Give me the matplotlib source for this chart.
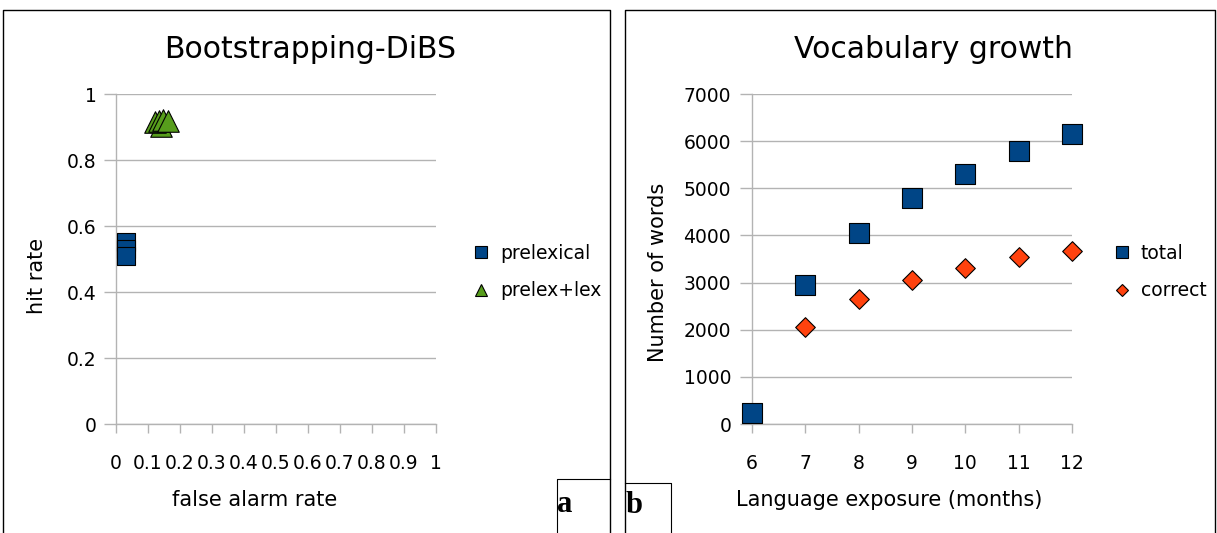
import matplotlib
matplotlib.use("Agg")
import matplotlib.pyplot as plt
from matplotlib.lines import Line2D

# ---- data ----
prelexical_far = [0.03, 0.03, 0.03]
prelexical_hit = [0.55, 0.53, 0.51]
prelexlex_far = [0.14, 0.122, 0.134, 0.147, 0.163]
prelexlex_hit = [0.903, 0.915, 0.918, 0.92, 0.918]

months = [6, 7, 8, 9, 10, 11, 12]
total_words = [230, 2950, 4050, 4800, 5300, 5800, 6150]
correct_months = [7, 8, 9, 10, 11, 12]
correct_words = [2050, 2650, 3050, 3300, 3550, 3680]

far_ticks = [0, 0.1, 0.2, 0.3, 0.4, 0.5, 0.6, 0.7, 0.8, 0.9, 1]
far_ticklabels = ["0", "0.1", "0.2", "0.3", "0.4", "0.5", "0.6", "0.7", "0.8", "0.9", "1"]
hit_ticks = [0, 0.2, 0.4, 0.6, 0.8, 1]
hit_ticklabels = ["0", "0.2", "0.4", "0.6", "0.8", "1"]
word_ticks = [0, 1000, 2000, 3000, 4000, 5000, 6000, 7000]

BLUE = "#004586"
ORANGE = "#ff420e"
GREEN = "#579d1c"
GRID = "#b3b3b3"

plt.rcParams["font.family"] = ["DejaVu Sans"]

W, H = 1217, 533
fig = plt.figure(figsize=(W / 100, H / 100), dpi=100)


def px_rect(x0, y0, x1, y1):
    return [x0 / W, 1 - y1 / H, (x1 - x0) / W, (y1 - y0) / H]


def fx(x):
    return x / W


def fy(y):
    return 1 - y / H


def style_axes(ax):
    for s in ("top", "right"):
        ax.spines[s].set_visible(False)
    for s in ("left", "bottom"):
        ax.spines[s].set_color(GRID)
        ax.spines[s].set_linewidth(1.0)
    ax.grid(axis="y", color=GRID, linewidth=1.0)
    ax.set_axisbelow(True)
    ax.tick_params(axis="both", colors=GRID, labelcolor="black", labelsize=13.5,
                   width=1.0)
    ax.tick_params(axis="x", length=6.5, pad=15)
    ax.tick_params(axis="y", length=8.5, pad=5.5)


# ---- left panel ----
ax1 = fig.add_axes(px_rect(116, 94, 436, 424))
style_axes(ax1)
ax1.scatter(prelexical_far, prelexical_hit, marker="s", s=13.5 ** 2, c=BLUE,
            edgecolors="black", linewidths=0.8, zorder=3, clip_on=False)
ax1.scatter(prelexlex_far, prelexlex_hit, marker="^", s=15.5 ** 2, c=GREEN,
            edgecolors="black", linewidths=0.8, zorder=3, clip_on=False)
ax1.set_xlim(0, 1)
ax1.set_ylim(0, 1)
ax1.set_xticks(far_ticks)
ax1.set_xticklabels(far_ticklabels)
ax1.set_yticks(hit_ticks)
ax1.set_yticklabels(hit_ticklabels)
ax1.set_xlabel("false alarm rate", fontsize=15)
ax1.xaxis.set_label_coords(0.434, -0.2)
ax1.set_ylabel("hit rate", fontsize=15)
ax1.yaxis.set_label_coords(-0.216, 0.448)
fig.text(fx(310), fy(58), "Bootstrapping-DiBS", fontsize=21.5,
         ha="center", va="baseline")

h1 = [Line2D([], [], ls="none", marker="s", ms=8.6, mfc=BLUE, mec="black", mew=0.8),
      Line2D([], [], ls="none", marker="^", ms=8.5, mfc=GREEN, mec="black", mew=0.8)]
ax1.legend(h1, ["prelexical", "prelex+lex"], loc="center left",
           bbox_to_anchor=(fx(466), fy(272)), bbox_transform=fig.transFigure,
           frameon=False, fontsize=13.5, handlelength=0.8, handletextpad=0.6,
           labelspacing=1.0, borderaxespad=0)

# ---- right panel ----
ax2 = fig.add_axes(px_rect(752, 94, 1072, 424))
style_axes(ax2)
ax2.scatter(months, total_words, marker="s", s=14.5 ** 2, c=BLUE,
            edgecolors="black", linewidths=0.8, zorder=3, clip_on=False)
ax2.scatter(correct_months, correct_words, marker="D", s=10 ** 2, c=ORANGE,
            edgecolors="black", linewidths=0.8, zorder=3, clip_on=False)
ax2.set_xlim(6, 12)
ax2.set_ylim(0, 7000)
ax2.set_xticks(months)
ax2.set_yticks(word_ticks)
ax2.tick_params(axis="y", pad=6.5)
ax2.set_xlabel("Language exposure (months)", fontsize=15)
ax2.xaxis.set_label_coords(0.428, -0.2)
ax2.set_ylabel("Number of words", fontsize=15)
ax2.yaxis.set_label_coords(-0.2625, 0.46)
fig.text(fx(933), fy(58), "Vocabulary growth", fontsize=21.5,
         ha="center", va="baseline")

h2 = [Line2D([], [], ls="none", marker="s", ms=8.6, mfc=BLUE, mec="black", mew=0.8),
      Line2D([], [], ls="none", marker="D", ms=6.5, mfc=ORANGE, mec="black", mew=0.8)]
ax2.legend(h2, ["total", "correct"], loc="center left",
           bbox_to_anchor=(fx(1107), fy(272)), bbox_transform=fig.transFigure,
           frameon=False, fontsize=13.5, handlelength=0.8, handletextpad=0.6,
           labelspacing=1.0, borderaxespad=0)

# ---- panel frames and letters ----
def fig_line(xs, ys, lw=1.0):
    fig.add_artist(Line2D([fx(x) for x in xs], [fy(y) for y in ys],
                          color="black", linewidth=lw))

fig_line([3, 3, 610, 610], [533, 10, 10, 533])
fig_line([625, 625, 1215, 1215], [533, 10, 10, 533])
fig_line([557, 557, 610], [533, 479, 479], lw=0.8)
fig_line([671, 671, 625], [533, 483, 483], lw=0.8)
fig.text(fx(557), fy(512), "a", fontsize=22, fontweight="bold",
         family="Liberation Serif", va="baseline", ha="left")
fig.text(fx(626), fy(513), "b", fontsize=22, fontweight="bold",
         family="Liberation Serif", va="baseline", ha="left")

fig.savefig("out.png", dpi=100)
